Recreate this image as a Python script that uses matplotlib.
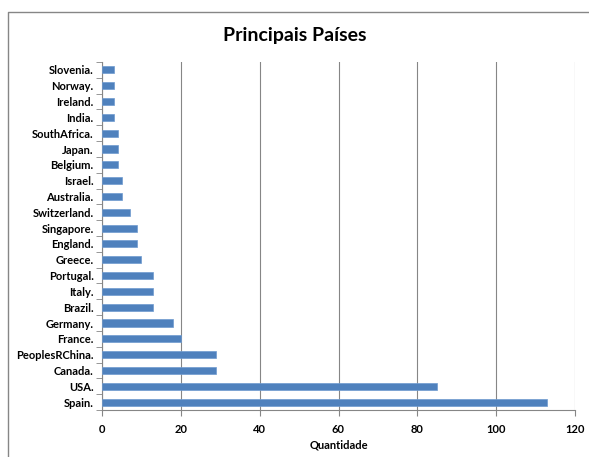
import matplotlib
matplotlib.use("Agg")
import matplotlib.pyplot as plt
from matplotlib.lines import Line2D
import numpy as np

# countries listed bottom to top
paises = ["Spain.", "USA.", "Canada.", "PeoplesRChina.", "France.", "Germany.",
          "Brazil.", "Italy.", "Portugal.", "Greece.", "England.", "Singapore.",
          "Switzerland.", "Australia.", "Israel.", "Belgium.", "Japan.",
          "SouthAfrica.", "India.", "Ireland.", "Norway.", "Slovenia."]
quantidade = [113, 85, 29, 29, 20, 18, 13, 13, 13, 10, 9, 9, 7, 5, 5, 4, 4, 4, 3, 3, 3, 3]
xticks = [0, 20, 40, 60, 80, 100, 120]

plt.rcParams['font.family'] = ['Lato', 'DejaVu Sans']

fig = plt.figure(figsize=(5.89, 4.57), dpi=100)
ax = fig.add_axes([102/589, 1 - 410/457, (575-102)/589, (410-62)/457])

y = np.arange(len(paises))
ax.barh(y, quantidade, height=0.45, color="#4f81bd", edgecolor="#6f9bd0", linewidth=0.5, zorder=3)

ax.set_xlim(0, 120)
ax.set_ylim(-0.5, len(paises) - 0.5)
ax.set_xticks(xticks)
ax.set_xticklabels([str(v) for v in xticks], fontsize=8, fontweight="bold")
ax.set_yticks(y)
ax.set_yticklabels(paises, fontsize=8, fontweight="bold")
ax.tick_params(axis="y", length=0, pad=6)
ax.tick_params(axis="x", length=4, color="#868686", pad=6)
# category boundary ticks on the value axis
ax.set_yticks(np.arange(-0.5, len(paises)), minor=True)
ax.tick_params(axis="y", which="minor", length=4, color="#868686")

ax.grid(axis="x", color="#868686", linewidth=0.8, zorder=0)
for s in ["top", "right"]:
    ax.spines[s].set_visible(False)
for s in ["left", "bottom"]:
    ax.spines[s].set_color("#868686")

ax.set_xlabel("Quantidade", fontsize=8, fontweight="bold", labelpad=3)
fig.text(0.5, 1 - 36/457, "Principais Países", ha="center", va="center",
         fontsize=14, fontweight="bold")

# chart frame: top and left edges only
fx, fy = 8/589, 1 - 12/457
fig.lines.append(Line2D([fx, fx, 1.0], [0.0, fy, fy], transform=fig.transFigure,
                        color="#868686", linewidth=1))

fig.savefig("out.png", dpi=100)
